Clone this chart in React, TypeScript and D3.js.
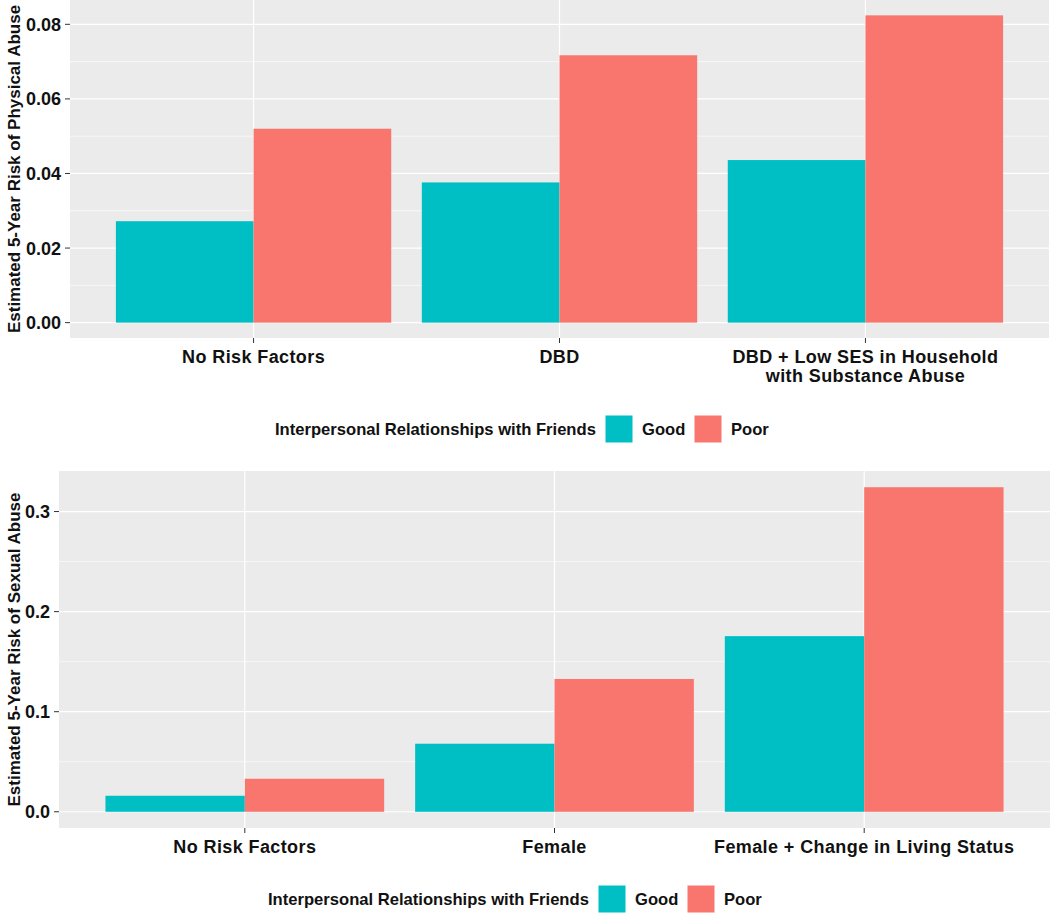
import React from 'react';
import { scaleBand, scaleLinear } from 'd3';

const groups = ['Good', 'Poor'];
const colors = ['#00BFC4', '#F8766D'];

const physCategories = ['No Risk Factors', 'DBD', 'DBD + Low SES in Household\nwith Substance Abuse'];
const physGood = [0.0272, 0.0376, 0.0436];
const physPoor = [0.052, 0.0717, 0.0824];
const physTicks = [0, 0.02, 0.04, 0.06, 0.08];
const physMinor = [0.01, 0.03, 0.05, 0.07];

const sexCategories = ['No Risk Factors', 'Female', 'Female + Change in Living Status'];
const sexGood = [0.016, 0.068, 0.1755];
const sexPoor = [0.033, 0.1327, 0.3243];
const sexTicks = [0, 0.1, 0.2, 0.3];
const sexMinor = [0.05, 0.15, 0.25];

const legendTitle = 'Interpersonal Relationships with Friends';
const FONT = '"Liberation Sans", Arial, sans-serif';

type PanelProps = {
  left: number;
  right: number;
  top: number;
  bottom: number;
  categories: string[];
  good: number[];
  poor: number[];
  ticks: number[];
  minor: number[];
  tickFmt: (v: number) => string;
  yTitle: string;
  legendY: number;
  legendX: number;
};

const Panel = (p: PanelProps) => {
  const maxV = Math.max(...p.good, ...p.poor);
  const pad = maxV * 0.05;
  const y = scaleLinear().domain([-pad, maxV + pad]).range([p.bottom, p.top]);
  const x = scaleBand().domain(p.categories).range([p.left, p.right]).paddingInner(0).paddingOuter(0.1);
  const step = x.step();
  const sub = scaleBand().domain(groups).range([0, step * 0.9]);
  const vals = [p.good, p.poor];

  return (
    <g>
      <rect x={p.left} y={p.top} width={p.right - p.left} height={p.bottom - p.top} fill="#EBEBEB" />
      {p.minor.map((t) => (
        <line key={'m' + t} x1={p.left} x2={p.right} y1={y(t)} y2={y(t)} stroke="#fff" strokeWidth={0.6} />
      ))}
      {p.ticks.map((t) => (
        <line key={'t' + t} x1={p.left} x2={p.right} y1={y(t)} y2={y(t)} stroke="#fff" strokeWidth={1.2} />
      ))}
      {p.categories.map((c) => {
        const cx = (x(c) as number) + step / 2;
        return <line key={'v' + c} x1={cx} x2={cx} y1={p.top} y2={p.bottom} stroke="#fff" strokeWidth={1.2} />;
      })}
      {p.categories.map((c, i) => {
        const x0 = (x(c) as number) + step * 0.05;
        return groups.map((g, j) => (
          <rect
            key={c + g}
            x={x0 + (sub(g) as number)}
            y={y(vals[j][i])}
            width={sub.bandwidth()}
            height={y(0) - y(vals[j][i])}
            fill={colors[j]}
          />
        ));
      })}
      {/* y axis */}
      {p.ticks.map((t) => (
        <g key={'yl' + t}>
          <line x1={p.left - 5} x2={p.left} y1={y(t)} y2={y(t)} stroke="#333" strokeWidth={1} />
          <text x={p.left - 9} y={y(t)} dy="0.36em" textAnchor="end" fontSize={18} fontWeight="bold" fill="#111">
            {p.tickFmt(t)}
          </text>
        </g>
      ))}
      <text
        transform={`translate(14,${(p.top + p.bottom) / 2}) rotate(-90)`}
        textAnchor="middle"
        dy="0.36em"
        fontSize={17}
        fontWeight="bold"
        fill="#111"
      >
        {p.yTitle}
      </text>
      {/* x axis */}
      {p.categories.map((c) => {
        const cx = (x(c) as number) + step / 2;
        const lines = c.split('\n');
        return (
          <g key={'xl' + c}>
            <line x1={cx} x2={cx} y1={p.bottom} y2={p.bottom + 5} stroke="#333" strokeWidth={1} />
            {lines.map((ln, k) => (
              <text
                key={k}
                x={cx}
                y={p.bottom + 25 + k * 19}
                textAnchor="middle"
                fontSize={18}
                letterSpacing={0.4}
                fontWeight="bold"
                fill="#111"
              >
                {ln}
              </text>
            ))}
          </g>
        );
      })}
      {/* legend */}
      <g transform={`translate(${p.legendX},${p.legendY})`}>
        <text x={0} y={0} dy="0.36em" fontSize={16.6} fontWeight="bold" fill="#111">
          {legendTitle}
        </text>
        {groups.map((g, j) => (
          <g key={g} transform={`translate(${330 + j * 89},0)`}>
            <rect x={0} y={-14} width={28} height={28} fill={colors[j]} stroke="#fff" strokeWidth={1} />
            <text x={37} y={0} dy="0.36em" fontSize={16.6} fontWeight="bold" fill="#111">
              {g}
            </text>
          </g>
        ))}
      </g>
    </g>
  );
};

export default function App() {
  return (
    <svg
      width={1050}
      height={914}
      style={{ position: 'absolute', left: 0, top: 0, background: '#fff', fontFamily: FONT }}
    >
      <Panel
        left={70}
        right={1049}
        top={0}
        bottom={338}
        categories={physCategories}
        good={physGood}
        poor={physPoor}
        ticks={physTicks}
        minor={physMinor}
        tickFmt={(v) => v.toFixed(2)}
        yTitle="Estimated 5-Year Risk of Physical Abuse"
        legendX={275}
        legendY={429}
      />
      <Panel
        left={59}
        right={1050}
        top={471}
        bottom={828}
        categories={sexCategories}
        good={sexGood}
        poor={sexPoor}
        ticks={sexTicks}
        minor={sexMinor}
        tickFmt={(v) => v.toFixed(1)}
        yTitle="Estimated 5-Year Risk of Sexual Abuse"
        legendX={268}
        legendY={899}
      />
    </svg>
  );
}
